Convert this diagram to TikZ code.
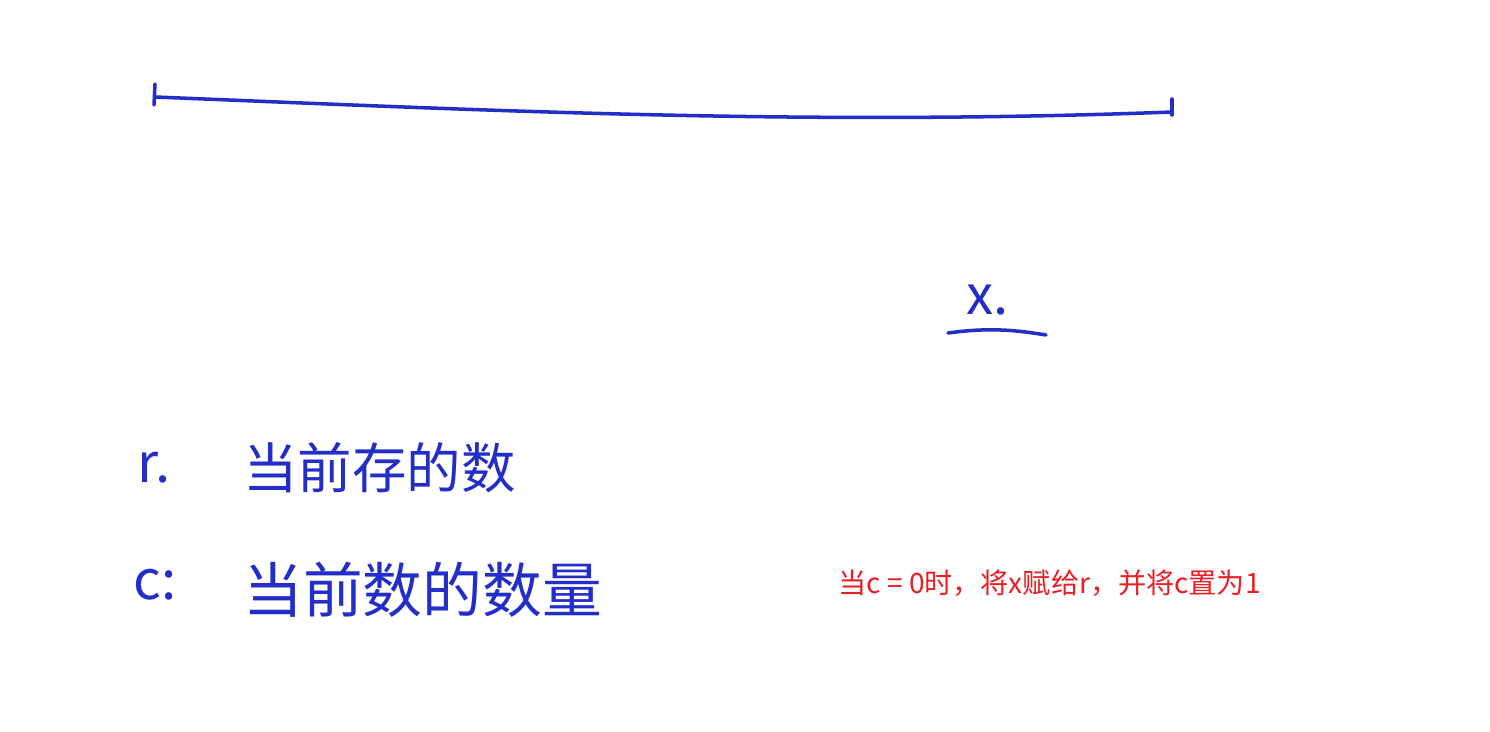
\documentclass[tikz,border=0pt]{standalone}
\usepackage{fontspec}
\usepackage{tikz}
\newfontfamily\cjk{Noto Sans CJK SC}
\definecolor{inkblue}{RGB}{35,45,200}
\definecolor{notered}{RGB}{235,30,35}

\begin{document}
\begin{tikzpicture}[
  x=0.2mm,y=-0.2mm,
  ink/.style={draw=inkblue,line width=2pt,line cap=round},
  hand/.style={text=inkblue,font=\cjk\fontsize{31}{33}\selectfont,inner sep=0pt,anchor=west},
  note/.style={text=notered,font=\cjk\fontsize{16}{18}\selectfont,inner sep=0pt,anchor=west}
]
\useasboundingbox[fill=white] (0,0) rectangle (1490,731);

% the array drawn as one long stroke
\draw[ink] (155,97) .. controls (480,110) and (800,126) .. (1172,112);
\draw[ink] (155,84) -- (154,105);
\draw[ink] (1172,99) -- (1172,115);

% current element
\node[hand] (xlab) at (966,300) {x.};
\draw[ink] (948,333) .. controls (985,328) and (1010,329) .. (1046,335);

% meaning of the two variables
\node[hand] (rvar) at (137,468) {r.};
\node[hand] (rtext) at (243,468) {当前存的数};
\node[hand] (cvar) at (133,585) {c:};
\node[hand,font=\cjk\fontsize{34}{36}\selectfont] (ctext) at (243,590) {当前数的数量};

% rule
\node[note] (rule) at (838,583) {当c = 0时，将x赋给r，并将c置为1};
\end{tikzpicture}
\end{document}
